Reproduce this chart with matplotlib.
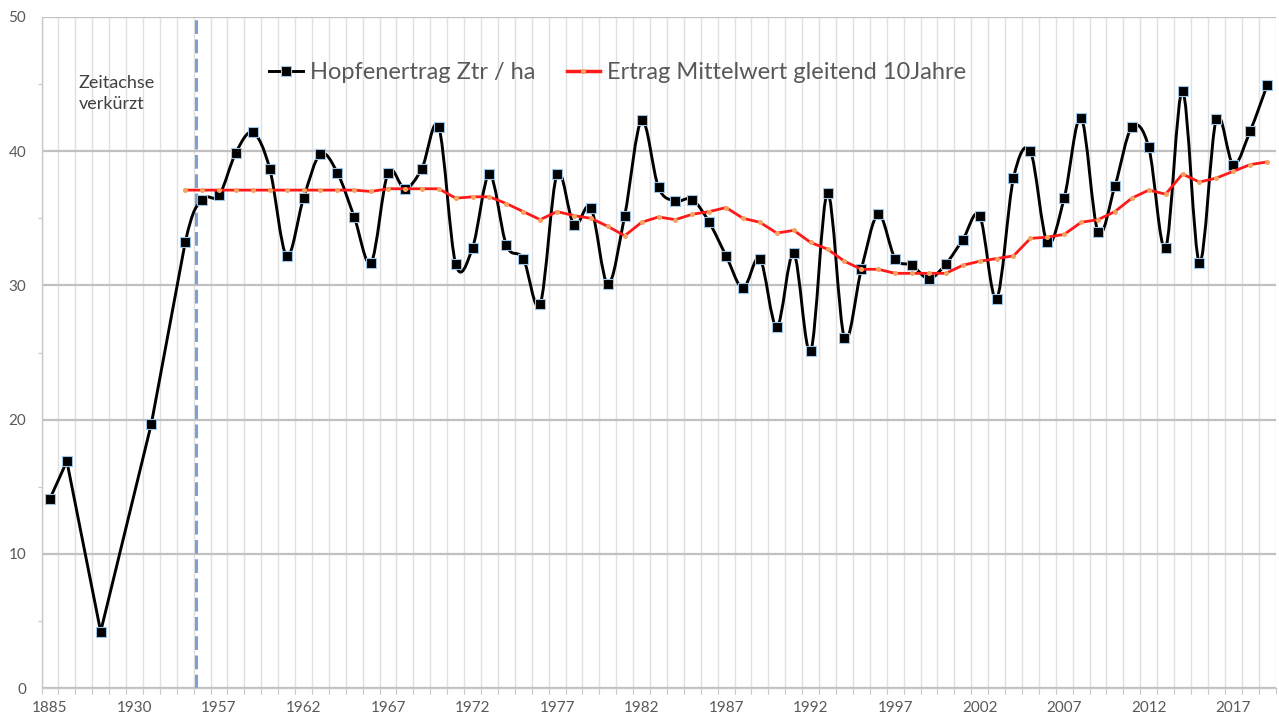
#!/usr/bin/env python3
"""Hopfenertrag (Ztr/ha) mit gleitendem 10-Jahres-Mittel, Excel-Look."""
import matplotlib

matplotlib.use("Agg")
import matplotlib.pyplot as plt
import numpy as np
from matplotlib.lines import Line2D
from matplotlib.patches import PathPatch
from matplotlib.path import Path

plt.rcParams["font.family"] = ["Lato", "DejaVu Sans"]

# categories (x axis is shortened before 1957)
years_early = ["1885", "1890", "1900", "1910", "1920", "1930", "1940", "1950", "1955", "1956"]
years_late = [str(y) for y in range(1957, 2020)]
categories = years_early + years_late

# yield per year, None = no value for that category
ertrag = [
    14.1, 16.9, None, 4.2, None, None, 19.7, None, 33.2, 36.4,
    36.7, 39.9, 41.4, 38.7, 32.2, 36.5, 39.8, 38.4, 35.1, 31.7,
    38.4, 37.2, 38.7, 41.8, 31.6, 32.8, 38.3, 33.0, 32.0, 28.6,
    38.3, 34.5, 35.8, 30.1, 35.2, 42.3, 37.3, 36.3, 36.4, 34.7,
    32.2, 29.8, 32.0, 26.9, 32.4, 25.1, 36.9, 26.1, 31.2, 35.3,
    32.0, 31.5, 30.5, 31.6, 33.4, 35.2, 29.0, 38.0, 40.0, 33.2,
    36.5, 42.5, 34.0, 37.4, 41.8, 40.3, 32.8, 44.5, 31.7, 42.4,
    39.0, 41.5, 44.9,
]

# moving average (starts at category index 8)
mittel_start = 8
mittel = [
    37.1, 37.1, 37.1, 37.1, 37.1, 37.1, 37.1, 37.1, 37.1, 37.1,
    37.1, 37.0, 37.2, 37.2, 37.2, 37.2, 36.5, 36.6, 36.6, 36.1,
    35.5, 34.9, 35.5, 35.2, 35.0, 34.4, 33.7, 34.7, 35.1, 34.9,
    35.3, 35.5, 35.8, 35.0, 34.7, 33.9, 34.1, 33.2, 32.7, 31.8,
    31.2, 31.2, 30.9, 30.9, 30.9, 30.9, 31.5, 31.8, 32.0, 32.2,
    33.5, 33.6, 33.8, 34.7, 34.9, 35.5, 36.5, 37.1, 36.8, 38.3,
    37.7, 38.0, 38.5, 39.0, 39.2,
]

label_ertrag = "Hopfenertrag Ztr / ha"
label_mittel = "Ertrag Mittelwert gleitend 10Jahre"
note_text = "Zeitachse\nverkürzt"
break_pos = 8.64  # dashed marker for the shortened axis


def smooth_path(x, y, straight_before):
    # Excel-like smoothed line: cubic bezier through the points,
    # plain segments in the shortened part of the axis
    pts = np.column_stack([x, y])
    n = len(pts)
    verts = [pts[0]]
    codes = [Path.MOVETO]
    for i in range(n - 1):
        p0 = pts[max(i - 1, 0)]
        p1 = pts[i]
        p2 = pts[i + 1]
        p3 = pts[min(i + 2, n - 1)]
        if p2[0] < straight_before:
            verts.append(p2)
            codes.append(Path.LINETO)
            continue
        verts += [p1 + (p2 - p0) / 6.0, p2 - (p3 - p1) / 6.0, p2]
        codes += [Path.CURVE4] * 3
    return Path(verts, codes)


def main() -> None:
    fig = plt.figure(figsize=(12.79, 7.18), dpi=100)
    ax = fig.add_axes([41.5 / 1279, 30 / 718, 1234 / 1279, 671 / 718])

    n = len(categories)
    idx = np.arange(n)
    valid = np.array([v is not None for v in ertrag])
    xs = idx[valid].astype(float)
    ys = np.array([v for v in ertrag if v is not None], dtype=float)

    ax.add_patch(PathPatch(smooth_path(xs, ys, break_pos), fill=False, edgecolor="black",
                           linewidth=2.1, capstyle="round", joinstyle="round", zorder=3))
    ax.plot(xs, ys, linestyle="none", marker="s", markersize=7,
            markerfacecolor="black", markeredgecolor="#9dc3e6", markeredgewidth=0.8, zorder=4)

    mx = np.arange(mittel_start, mittel_start + len(mittel))
    ax.plot(mx, mittel, color="#ff1a1a", linewidth=2.0, marker="o", markersize=2.6,
            markerfacecolor="#f4a460", markeredgecolor="#f4a460", zorder=5)

    ax.axvline(break_pos, color="#7f9fd4", linewidth=2.2, linestyle=(0, (4.5, 1.8)), zorder=2)

    ax.set_xlim(-0.5, n - 0.5)
    ax.set_ylim(0, 50)

    # x: gridlines / ticks between categories, labels every 5th category
    ax.set_xticks(np.arange(n + 1) - 0.5)
    ax.set_xticklabels([])
    ax.set_xticks(idx[::5], minor=True)
    ax.set_xticklabels([categories[i] for i in idx[::5]], minor=True)
    ax.tick_params(axis="x", which="major", length=4, width=0.8, color="#c8c8c8", direction="out")
    ax.tick_params(axis="x", which="minor", length=0, pad=9, labelsize=11, labelcolor="#595959")

    ax.set_yticks(np.arange(0, 51, 10))
    ax.set_yticks(np.arange(5, 50, 10), minor=True)
    ax.tick_params(axis="y", which="major", length=0, pad=11, labelsize=11, labelcolor="#595959")
    ax.tick_params(axis="y", which="minor", length=3, width=0.8, color="#c8c8c8", direction="out")

    ax.grid(axis="x", which="major", color="#e0e0e0", linewidth=1.0, zorder=0)
    ax.grid(axis="y", which="major", color="#c0c0c0", linewidth=1.6, zorder=0)
    ax.set_axisbelow(True)

    for side in ("top", "right"):
        ax.spines[side].set_visible(False)
    for side in ("left", "bottom"):
        ax.spines[side].set_color("#c8c8c8")
        ax.spines[side].set_linewidth(1.0)

    ax.text(1.7, 44.3, note_text, fontsize=13, color="#404040",
            ha="left", va="center", linespacing=1.45)

    handles = [
        Line2D([], [], color="black", linewidth=2.1, marker="s", markersize=7,
               markerfacecolor="black", markeredgecolor="#9dc3e6", markeredgewidth=0.8),
        Line2D([], [], color="#ff1a1a", linewidth=2.5, marker="o", markersize=2.6,
               markerfacecolor="#f4a460", markeredgecolor="#f4a460"),
    ]
    ax.legend(handles, [label_ertrag, label_mittel], loc="center",
              bbox_to_anchor=(0.467, 0.917), ncol=2, frameon=False, fontsize=17,
              labelcolor="#595959", handlelength=1.4, handletextpad=0.3, columnspacing=1.35)

    fig.savefig("out.png", dpi=100)
    plt.close(fig)


if __name__ == "__main__":
    main()
